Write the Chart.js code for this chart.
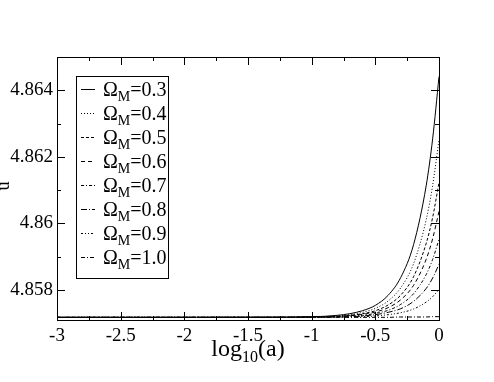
<!DOCTYPE html>
<html>
<head>
<meta charset="utf-8">
<script src="https://cdn.jsdelivr.net/npm/chart.js@4.4.1/dist/chart.umd.min.js"></script>
<style>
  html, body { margin: 0; padding: 0; background: #fff; }
  #wrap { width: 494px; height: 382px; position: relative; }
</style>
</head>
<body>
<div id="wrap"><canvas id="chart"></canvas></div>
<script>
// log10(a) sample points
const logA = [-3, -1.2, -1, -0.9, -0.8, -0.7, -0.6, -0.5, -0.4, -0.3, -0.2, -0.1, -0.05, 0];

// values, one array per Omega_M
const om03 = [4.85718, 4.85719, 4.85720, 4.85721, 4.85724, 4.85729, 4.85738, 4.85754, 4.85784, 4.85838, 4.85936, 4.86115, 4.86254, 4.86441];
const om04 = [4.85718, 4.85718, 4.85719, 4.85720, 4.85722, 4.85726, 4.85733, 4.85745, 4.85767, 4.85807, 4.85879, 4.86012, 4.86114, 4.86252];
const om05 = [4.85718, 4.85718, 4.85719, 4.85720, 4.85721, 4.85724, 4.85729, 4.85738, 4.85755, 4.85785, 4.85840, 4.85941, 4.86018, 4.86123];
const om06 = [4.85718, 4.85718, 4.85719, 4.85719, 4.85721, 4.85723, 4.85727, 4.85734, 4.85747, 4.85771, 4.85814, 4.85893, 4.85954, 4.86036];
const om07 = [4.85718, 4.85718, 4.85719, 4.85719, 4.85720, 4.85722, 4.85724, 4.85730, 4.85739, 4.85757, 4.85789, 4.85847, 4.85892, 4.85952];
const om08 = [4.85718, 4.85718, 4.85718, 4.85719, 4.85719, 4.85720, 4.85722, 4.85726, 4.85733, 4.85744, 4.85766, 4.85805, 4.85836, 4.85877];
const om09 = [4.85718, 4.85718, 4.85718, 4.85718, 4.85719, 4.85719, 4.85720, 4.85722, 4.85726, 4.85732, 4.85743, 4.85764, 4.85780, 4.85802];
const om10 = [4.85718, 4.85718, 4.85718, 4.85718, 4.85718, 4.85718, 4.85718, 4.85718, 4.85718, 4.85719, 4.85719, 4.85719, 4.85720, 4.85720];

const omegaLabels = ['0.3', '0.4', '0.5', '0.6', '0.7', '0.8', '0.9', '1.0'];
const seriesList = [om03, om04, om05, om06, om07, om08, om09, om10];
const dashes = [[], [1, 2], [3, 2], [4, 3], [3, 2, 1, 2], [6, 2, 1, 2], [2, 2, 1, 2, 1, 2], [4, 2, 1, 2]];

const xTickValues = [-3, -2.75, -2.5, -2.25, -2, -1.75, -1.5, -1.25, -1, -0.75, -0.5, -0.25, 0];
const xTickLabels = ['-3', '', '-2.5', '', '-2', '', '-1.5', '', '-1', '', '-0.5', '', '0'];
const yTickValues = [4.858, 4.859, 4.86, 4.861, 4.862, 4.863, 4.864];
const yTickLabels = ['4.858', '', '4.86', '', '4.862', '', '4.864'];

const SERIF = '"Liberation Serif", "DejaVu Serif", serif';

const datasets = seriesList.map((arr, i) => ({
  label: 'ΩM=' + omegaLabels[i],
  data: logA.map((x, j) => ({ x, y: arr[j] })),
  borderColor: '#000',
  borderWidth: 1,
  borderDash: dashes[i],
  pointRadius: 0,
  fill: false,
  cubicInterpolationMode: 'monotone'
}));

const decorPlugin = {
  id: 'decor',
  afterDraw(chart) {
    const ctx = chart.ctx;
    const a = chart.chartArea;
    const xs = chart.scales.x, ys = chart.scales.y;
    ctx.save();
    ctx.strokeStyle = '#000';
    ctx.lineWidth = 1;
    ctx.setLineDash([]);
    // frame
    ctx.strokeRect(Math.round(a.left) + 0.5, Math.round(a.top) + 0.5, Math.round(a.right - a.left), Math.round(a.bottom - a.top));
    // inward ticks
    ctx.beginPath();
    xTickValues.forEach((v, i) => {
      const px = Math.round(xs.getPixelForValue(v)) + 0.5;
      const len = xTickLabels[i] ? 8 : 4;
      ctx.moveTo(px, a.bottom); ctx.lineTo(px, a.bottom - len);
      ctx.moveTo(px, a.top); ctx.lineTo(px, a.top + len);
    });
    yTickValues.forEach((v, i) => {
      const py = Math.round(ys.getPixelForValue(v)) + 0.5;
      const len = yTickLabels[i] ? 8 : 4;
      ctx.moveTo(a.left, py); ctx.lineTo(a.left + len, py);
      ctx.moveTo(a.right, py); ctx.lineTo(a.right - len, py);
    });
    ctx.stroke();

    // legend
    ctx.strokeRect(76.5, 76.5, 92, 202);
    omegaLabels.forEach((lab, i) => {
      const ry = 89.5 + 24 * i;
      ctx.setLineDash(dashes[i]);
      ctx.beginPath();
      ctx.moveTo(81, ry); ctx.lineTo(95, ry);
      ctx.stroke();
      ctx.setLineDash([]);
      ctx.fillStyle = '#000';
      ctx.textBaseline = 'alphabetic';
      ctx.textAlign = 'left';
      let x = 103;
      const base = ry + 6;
      ctx.font = '20px ' + SERIF;
      ctx.fillText('Ω', x, base);
      x += ctx.measureText('Ω').width;
      ctx.font = '14px ' + SERIF;
      ctx.fillText('M', x, base + 5);
      x += ctx.measureText('M').width;
      ctx.font = '20px ' + SERIF;
      ctx.fillText('=' + lab, x, base);
    });

    // x axis title with subscript
    ctx.fillStyle = '#000';
    ctx.textBaseline = 'alphabetic';
    ctx.textAlign = 'left';
    ctx.font = '24px ' + SERIF;
    const w1 = ctx.measureText('log').width;
    const w3 = ctx.measureText('(a)').width;
    ctx.font = '16px ' + SERIF;
    const w2 = ctx.measureText('10').width;
    let tx = (a.left + a.right) / 2 - (w1 + w2 + w3) / 2;
    const tb = 356;
    ctx.font = '24px ' + SERIF;
    ctx.fillText('log', tx, tb); tx += w1;
    ctx.font = '16px ' + SERIF;
    ctx.fillText('10', tx, tb + 6); tx += w2;
    ctx.font = '24px ' + SERIF;
    ctx.fillText('(a)', tx, tb);

    // y axis title (cut off at the left edge)
    ctx.translate(9, 186);
    ctx.rotate(-Math.PI / 2);
    ctx.textAlign = 'center';
    ctx.font = '18px ' + SERIF;
    ctx.fillText('u', 0, 0);
    ctx.restore();
  }
};

new Chart(document.getElementById('chart'), {
  type: 'line',
  data: { datasets },
  plugins: [decorPlugin],
  options: {
    responsive: true,
    maintainAspectRatio: false,
    animation: false,
    layout: { padding: { top: 57, right: 55, left: 0, bottom: 0 } },
    plugins: { legend: { display: false }, tooltip: { enabled: false } },
    scales: {
      x: {
        type: 'linear',
        min: -3,
        max: 0,
        afterBuildTicks: (s) => { s.ticks = xTickValues.map((v) => ({ value: v })); },
        afterFit: (s) => { s.height = 62; },
        grid: { display: false, drawTicks: false },
        border: { display: false },
        ticks: {
          autoSkip: false,
          maxRotation: 0,
          padding: 5,
          color: '#000',
          font: { family: SERIF, size: 19 },
          callback: (v, i) => xTickLabels[i]
        }
      },
      y: {
        type: 'linear',
        min: 4.8571,
        max: 4.865,
        afterBuildTicks: (s) => { s.ticks = yTickValues.map((v) => ({ value: v })); },
        afterFit: (s) => { s.width = 57; },
        grid: { display: false, drawTicks: false },
        border: { display: false },
        ticks: {
          autoSkip: false,
          padding: 4,
          color: '#000',
          font: { family: SERIF, size: 19 },
          callback: (v, i) => yTickLabels[i]
        }
      }
    }
  }
});
</script>
</body>
</html>
